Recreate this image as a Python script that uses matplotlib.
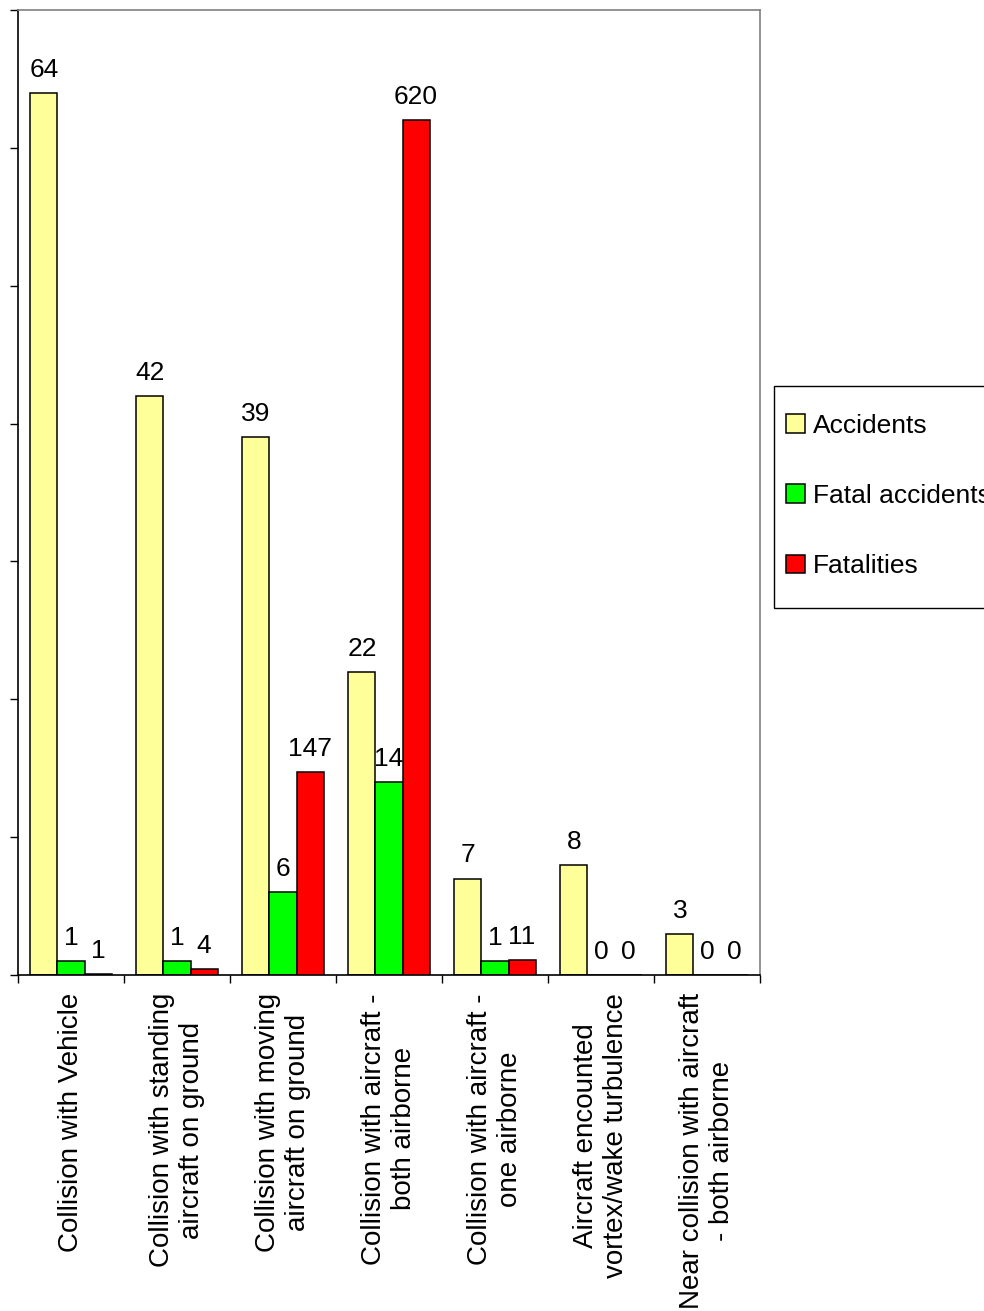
import matplotlib
matplotlib.use("Agg")
import matplotlib.pyplot as plt
from matplotlib.patches import Rectangle
import numpy as np

categories = [
    "Collision with Vehicle",
    "Collision with standing\naircraft on ground",
    "Collision with moving\naircraft on ground",
    "Collision with aircraft -\nboth airborne",
    "Collision with aircraft -\none airborne",
    "Aircraft encounted\nvortex/wake turbulence",
    "Near collision with aircraft\n- both airborne",
]
accidents = [64, 42, 39, 22, 7, 8, 3]
fatal_accidents = [1, 1, 6, 14, 1, 0, 0]
fatalities = [1, 4, 147, 620, 11, 0, 0]

plt.rcParams['font.family'] = ['Liberation Sans', 'DejaVu Sans']

W, H = 984, 1311
fig = plt.figure(figsize=(W / 100, H / 100), dpi=100)
ax = fig.add_axes([18 / W, 1 - 975 / H, (760 - 18) / W, (975 - 10) / H])
ax2 = ax.twinx()

x = np.arange(len(categories))
bw = 0.255
c_acc, c_fat, c_ftl = "#FFFF99", "#00FF00", "#FF0000"

b1 = ax.bar(x - bw, accidents, bw, color=c_acc, edgecolor="black", linewidth=1.1, label="Accidents")
b2 = ax.bar(x, fatal_accidents, bw, color=c_fat, edgecolor="black", linewidth=1.1, label="Fatal accidents")
b3 = ax2.bar(x + bw, fatalities, bw, color=c_ftl, edgecolor="black", linewidth=1.1, label="Fatalities")

ax.set_ylim(0, 70)
ax2.set_ylim(0, 700)
ax.set_xlim(-0.5, len(categories) - 0.5)

for bars, vals, a in ((b1, accidents, ax), (b2, fatal_accidents, ax), (b3, fatalities, ax2)):
    for rect, v in zip(bars, vals):
        a.annotate(str(v), (rect.get_x() + rect.get_width() / 2, rect.get_height()),
                   xytext=(0, 8), textcoords="offset points", ha="center", va="bottom",
                   fontsize=19, color="black")

ax.set_yticks(np.arange(0, 71, 10))
ax.tick_params(axis="y", direction="out", length=6, width=1, labelleft=False)
ax.set_xticks(np.arange(-0.5, len(categories), 1.0))
ax.set_xticklabels([])
ax.tick_params(axis="x", which="major", direction="out", length=6, width=1)
ax.set_xticks(x, minor=True)
ax.set_xticklabels(categories, minor=True, rotation=90, fontsize=20,
                   ha="center", va="top", multialignment="center", linespacing=1.18)
ax.tick_params(axis="x", which="minor", length=0, pad=13)

ax2.set_yticks([])
for s in ax2.spines.values():
    s.set_visible(False)
ax.spines["top"].set_color("#808080")
ax.spines["right"].set_color("#808080")
ax.spines["left"].set_color("black")
ax.spines["bottom"].set_color("black")
for s in ax.spines.values():
    s.set_linewidth(1.2)

# legend frame drawn in figure pixels
fig.patches.append(Rectangle((774 / W, 1 - 608 / H), (995 - 774) / W, (608 - 386) / H,
                             transform=fig.transFigure, fill=False, edgecolor="black",
                             linewidth=1.0))
handles = [b1, b2, b3]
leg = fig.legend(handles, ["Accidents", "Fatal accidents", "Fatalities"],
                 loc="center left", bbox_to_anchor=(786 / W, 1 - 496 / H),
                 fontsize=19, frameon=False,
                 labelspacing=1.75, handlelength=0.72, handleheight=0.72,
                 handletextpad=0.3, borderpad=0, borderaxespad=0)

fig.savefig("out.png", dpi=100)
